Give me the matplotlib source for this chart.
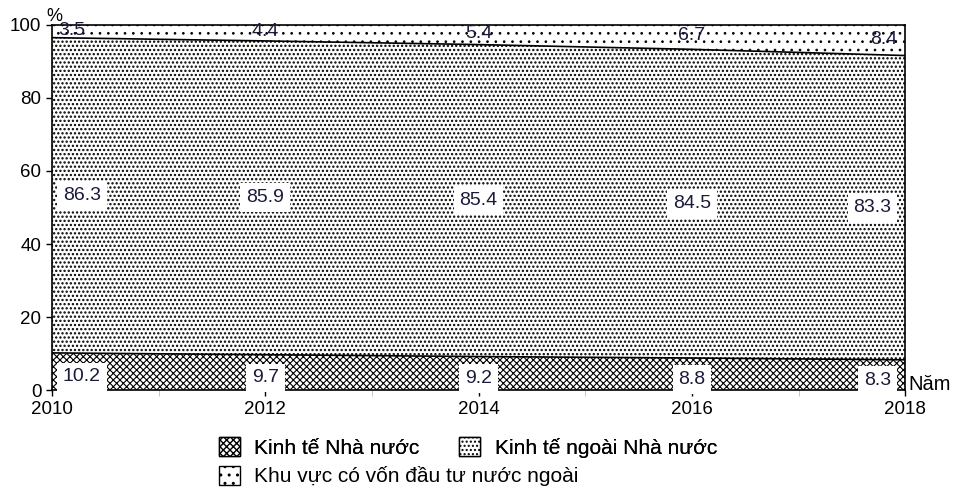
import numpy as np
import matplotlib as mpl
import matplotlib.pyplot as plt
from matplotlib.patches import Patch

plt.rcParams['font.family'] = ['Liberation Sans', 'DejaVu Sans']

years = [2010, 2012, 2014, 2016, 2018]
nha_nuoc = [10.2, 9.7, 9.2, 8.8, 8.3]
ngoai_nha_nuoc = [86.3, 85.9, 85.4, 84.5, 83.3]
nuoc_ngoai = [3.5, 4.4, 5.4, 6.7, 8.4]
series_names = ['Kinh tế Nhà nước', 'Kinh tế ngoài Nhà nước',
                'Khu vực có vốn đầu tư nước ngoài']
hatches = ['xxxxx', '....', '..']
hatch_lw = [0.8, 1.1, 0.7]

x = np.array(years)
b1 = np.array(nha_nuoc)
b2 = b1 + np.array(ngoai_nha_nuoc)

fig = plt.figure(figsize=(9.6, 4.97), dpi=100)
ax = fig.add_axes([0.054, 0.215, 0.889, 0.735])

bands = [(0, b1), (b1, b2), (b2, 100)]
for (lo, hi), h, hl in zip(bands, hatches, hatch_lw):
    with mpl.rc_context({'hatch.linewidth': hl}):
        ax.fill_between(x, lo, hi, facecolor='white', edgecolor='black', hatch=h, linewidth=0)
ax.plot(x, b1, color='black', lw=1.2)
ax.plot(x, b2, color='black', lw=1.2)

box = dict(boxstyle='square,pad=0.3', facecolor='white', edgecolor='none')
tc = '#1a1a3a'
for i, yr in enumerate(years):
    if i == 0:
        ha, dx = 'left', 8
    elif i == len(years) - 1:
        ha, dx = 'right', -10
    else:
        ha, dx = 'center', 0
    ax.annotate(f'{nha_nuoc[i]}', (yr, b1[i] / 2 - 1.5), xytext=(dx, 0),
                textcoords='offset points', ha=ha, va='center', fontsize=14,
                color=tc, bbox=box)
    ax.annotate(f'{ngoai_nha_nuoc[i]}', (yr, b1[i] + ngoai_nha_nuoc[i] / 2), xytext=(dx, 0),
                textcoords='offset points', ha=ha, va='center', fontsize=14,
                color=tc, bbox=box)
    ax.annotate(f'{nuoc_ngoai[i]}', (yr, b2[i] + nuoc_ngoai[i] / 2 + 0.3), xytext=(dx * 0.6, 0),
                textcoords='offset points', ha=ha, va='center', fontsize=14,
                color=tc)

ax.set_xlim(2010, 2018)
ax.set_ylim(0, 100)
ax.set_xticks(years)
ax.set_xticks(range(2011, 2018, 2), minor=True)
ax.set_yticks(range(0, 101, 20))
ax.tick_params(axis='both', labelsize=13.5, length=4, width=1)
ax.tick_params(axis='x', which='minor', length=4, color='#bbbbbb')
for s in ax.spines.values():
    s.set_linewidth(1.2)

ax.text(-0.006, 1.0, '%', transform=ax.transAxes, fontsize=13, ha='left', va='bottom')
ax.text(1.004, -0.01, 'Năm', transform=ax.transAxes, fontsize=14.5, ha='left', va='bottom')

handles = []
for h, hl in zip(hatches, hatch_lw):
    with mpl.rc_context({'hatch.linewidth': hl}):
        handles.append(Patch(facecolor='white', edgecolor='black', hatch=h, lw=1))

leg1 = fig.legend(handles[:2], series_names[:2], loc='center left',
                  bbox_to_anchor=(0.228, 0.1), ncol=2, frameon=False, fontsize=15,
                  handlelength=1.0, handleheight=1.0, handletextpad=0.7,
                  columnspacing=1.9, borderpad=0, borderaxespad=0)
fig.add_artist(leg1)
fig.legend(handles[2:], series_names[2:], loc='center left',
           bbox_to_anchor=(0.228, 0.042), frameon=False, fontsize=15,
           handlelength=1.0, handleheight=1.0, handletextpad=0.7,
           borderpad=0, borderaxespad=0)

fig.savefig('out.png', dpi=100)
